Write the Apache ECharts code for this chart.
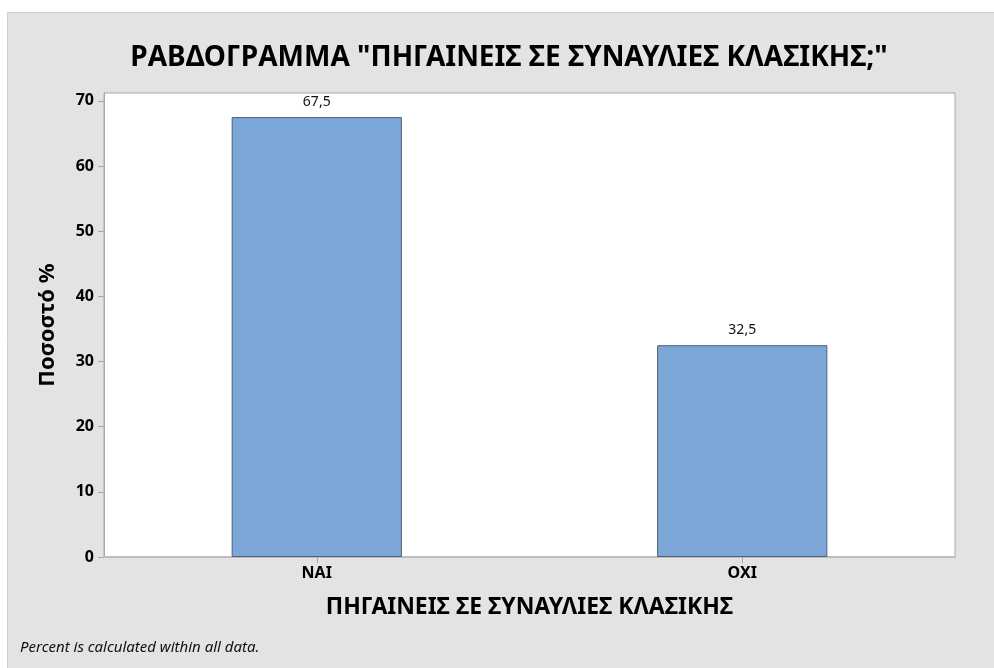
<!DOCTYPE html>
<html>
<head>
<meta charset="utf-8">
<script src="https://cdn.jsdelivr.net/npm/echarts@6/dist/echarts.min.js"></script>
<style>
html,body{margin:0;padding:0;background:#fff;}
#c{width:994px;height:668px;}
</style>
</head>
<body>
<div id="c"></div>
<script>
const categories = ['NAI', 'OXI'];
const percents = [67.5, 32.5];
const yTicks = [0, 10, 20, 30, 40, 50, 60, 70];
const titleText = 'ΡΑΒΔΟΓΡΑΜΜΑ "ΠΗΓΑΙΝΕΙΣ ΣΕ ΣΥΝΑΥΛΙΕΣ ΚΛΑΣΙΚΗΣ;"';
const xName = 'ΠΗΓΑΙΝΕΙΣ ΣΕ ΣΥΝΑΥΛΙΕΣ ΚΛΑΣΙΚΗΣ';
const yName = 'Ποσοστό %';
const footnote = 'Percent is calculated within all data.';

const FONT = '"Noto Sans", "Open Sans", sans-serif';
const chart = echarts.init(document.getElementById('c'), null, {renderer: 'canvas'});
chart.setOption({
  backgroundColor: '#ffffff',
  animation: false,
  textStyle: {fontFamily: FONT},
  graphic: [
    {type: 'rect', z: -10, silent: true,
     shape: {x: 7.5, y: 12.5, width: 1000, height: 700},
     style: {fill: '#e3e3e3', stroke: '#cfcfcf', lineWidth: 1}},
    {type: 'text', x: 509, y: 58, z: 10,
     style: {text: titleText, fontFamily: FONT, fontSize: 28, fontWeight: 'bold',
             fill: '#000', align: 'center', verticalAlign: 'middle'}},
    {type: 'text', x: 20, y: 648, z: 10,
     style: {text: footnote, fontFamily: FONT, fontSize: 15, fontStyle: 'italic',
             fill: '#111', align: 'left', verticalAlign: 'middle'}}
  ],
  grid: {left: 104, top: 93, right: 39, bottom: 111, show: true,
         backgroundColor: '#ffffff', borderColor: '#a8a8a8', borderWidth: 1},
  xAxis: {
    type: 'category', data: categories,
    name: xName, nameLocation: 'middle', nameGap: 39,
    nameTextStyle: {fontFamily: FONT, fontSize: 23, fontWeight: 'bold', color: '#000'},
    axisLine: {show: true, lineStyle: {color: '#bdbdbd', width: 2}},
    axisTick: {show: true, alignWithLabel: true, length: 6, lineStyle: {color: '#a8a8a8'}},
    axisLabel: {fontFamily: FONT, fontSize: 16, fontWeight: 'bold', color: '#000', margin: 8},
    splitLine: {show: false}
  },
  yAxis: {
    type: 'value', min: 0, max: 71.2, interval: 10,
    name: yName, nameLocation: 'middle', nameGap: 45, nameRotate: 90,
    nameTextStyle: {fontFamily: FONT, fontSize: 22, fontWeight: 'bold', color: '#000'},
    axisLine: {show: true, lineStyle: {color: '#a8a8a8'}},
    axisTick: {show: true, length: 6, lineStyle: {color: '#a8a8a8'}, customValues: yTicks},
    axisLabel: {fontFamily: FONT, fontSize: 16, fontWeight: 'bold', color: '#000', margin: 10,
                customValues: yTicks},
    splitLine: {show: false}
  },
  series: [{
    type: 'bar', data: percents, barWidth: '40%',
    itemStyle: {color: '#7ba7d9', borderColor: '#4f5d6e', borderWidth: 1},
    label: {show: true, position: 'top', distance: 8, fontFamily: FONT, fontSize: 14,
            color: '#111', formatter: p => String(p.value).replace('.', ',')}
  }]
});
</script>
</body>
</html>
